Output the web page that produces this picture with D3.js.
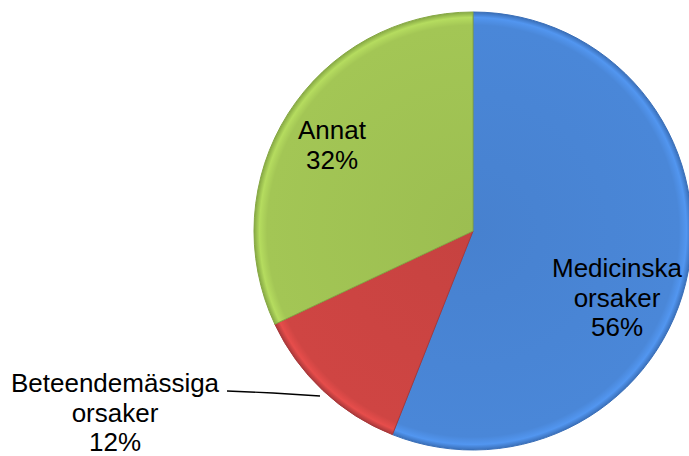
<!DOCTYPE html>
<html>
<head>
<meta charset="utf-8">
<script src="https://cdn.jsdelivr.net/npm/d3@7"></script>
<style>
  body { margin: 0; background: #fff; }
  svg { display: block; font-family: Arial, "Liberation Sans", sans-serif; }
</style>
</head>
<body>
<svg id="chart"></svg>
<script>
// Pie of causes
const categories = ["Medicinska orsaker", "Beteendemässiga orsaker", "Annat"];
const values = [56, 12, 32];
const labelLines = [["Medicinska", "orsaker", "56%"], ["Beteendemässiga", "orsaker", "12%"], ["Annat", "32%"]];
const colors = ["#4a87d8", "#cf4543", "#a3c655"];
const edgeColors = ["#3a6fb8", "#a8383a", "#86a844"];

const width = 689, height = 456;
const cx = 473, cy = 231, r = 219;

const svg = d3.select("#chart").attr("width", width).attr("height", height);
const defs = svg.append("defs");

// gradient is in the slice's own coordinates (centred at 0,0)
colors.forEach((c, i) => {
    const gr = defs.append("radialGradient").attr("id", "g" + i)
        .attr("gradientUnits", "userSpaceOnUse")
        .attr("cx", 0).attr("cy", 0).attr("r", r);
    gr.append("stop").attr("offset", "0%").attr("stop-color", d3.color(c).darker(0.12));
    gr.append("stop").attr("offset", "94%").attr("stop-color", c);
    gr.append("stop").attr("offset", "97.5%").attr("stop-color", d3.color(c).brighter(0.3));
    gr.append("stop").attr("offset", "100%").attr("stop-color", edgeColors[i]);
});

const pie = d3.pie().sort(null).value(d => d);
const arcs = pie(values);
const arc = d3.arc().innerRadius(0).outerRadius(r);

const g = svg.append("g").attr("transform", `translate(${cx},${cy})`);

g.selectAll("path")
    .data(arcs)
    .enter()
    .append("path")
    .attr("d", arc)
    .attr("fill", (d, i) => `url(#g${i})`)
    .attr("stroke", (d, i) => edgeColors[i])
    .attr("stroke-width", 1);

// label positions (relative to centre, first baseline)
const labelPos = [[144, 46], [-358, 161], [-141, -92]];
const lineH = 29.5;

arcs.forEach((d, i) => {
    const t = g.append("text")
        .attr("text-anchor", "middle")
        .attr("font-size", "26px")
        .attr("fill", "#000");
    labelLines[i].forEach((s, k) => {
        t.append("tspan")
            .attr("x", labelPos[i][0])
            .attr("y", labelPos[i][1] + k * lineH)
            .text(s);
    });
});

// leader line for the small slice
g.append("polyline")
    .attr("points", [[-246, 160], [-200, 162], [-153, 165]].map(p => p.join(",")).join(" "))
    .attr("fill", "none")
    .attr("stroke", "#000")
    .attr("stroke-width", 1.3);
</script>
</body>
</html>
